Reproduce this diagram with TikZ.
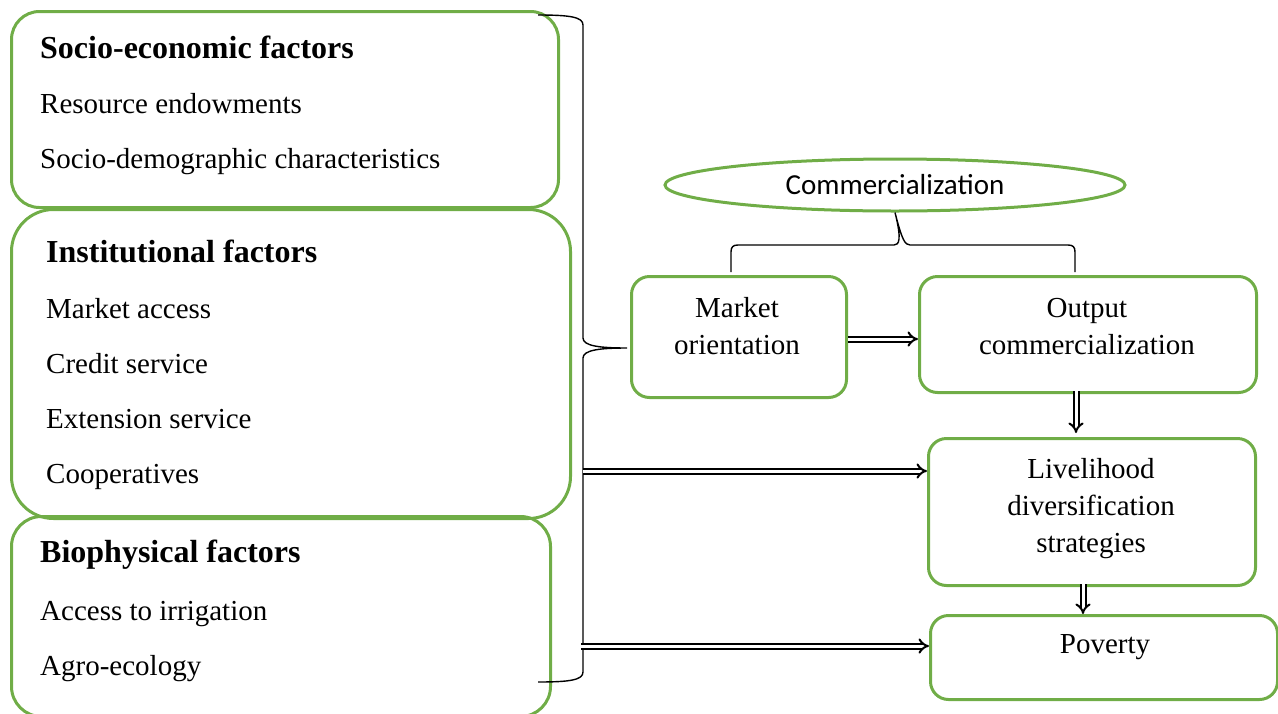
\documentclass[tikz,border=0pt]{standalone}
\usepackage{fontspec}
\setmainfont{Liberation Serif}
\newfontfamily\calfont{Carlito}
\usetikzlibrary{arrows.meta,shapes.geometric}
\definecolor{grn}{RGB}{112,173,71}
\tikzset{
  box/.style={draw=grn, line width=3pt, anchor=north west, inner sep=0pt},
  hd/.style={anchor=base west, inner sep=0pt, font=\fontsize{32}{38}\selectfont\bfseries},
  tx/.style={anchor=base west, inner sep=0pt, font=\fontsize{29}{36}\selectfont},
  ctx/.style={align=center, inner sep=0pt, font=\fontsize{29}{37}\selectfont},
  brc/.style={draw=black, line width=1.4pt},
  dbl/.style={double=white, double distance=3pt, line width=2pt, -{Implies}},
}
\begin{document}
\begin{tikzpicture}[x=1pt,y=-1pt]
\useasboundingbox (0,0) rectangle (1278,713);
% left boxes
\node[box, rounded corners=28pt, minimum width=547pt, minimum height=196pt] (se) at (10,10) {};
\node[box, rounded corners=42pt, minimum width=559pt, minimum height=309pt] (inst) at (10,208) {};
\node[box, rounded corners=30pt, minimum width=539pt, minimum height=200pt] (bio) at (10,515) {};
\node[hd] (t1) at (40,58) {Socio-economic factors};
\node[tx] (t2) at (40,113) {Resource endowments};
\node[tx] (t3) at (40,168) {Socio-demographic characteristics};
\node[hd] (t4) at (46,262) {Institutional factors};
\node[tx] (t5) at (46,318) {Market access};
\node[tx] (t6) at (46,373) {Credit service};
\node[tx] (t7) at (46,428) {Extension service};
\node[tx] (t8) at (46,483) {Cooperatives};
\node[hd] (t9) at (40,562) {Biophysical factors};
\node[tx] (t10) at (40,620) {Access to irrigation};
\node[tx] (t11) at (40,675) {Agro-ecology};
% big brace
\coordinate (bt) at (538,15);
\coordinate (bb) at (538,682);
\coordinate (btip) at (627,348);
\coordinate (b1) at (583,471);
\coordinate (b2) at (581,646);
\draw[brc] (bt) .. controls (570,15) and (583,17) .. (583,25) -- (583,338)
  .. controls (583,346) and (600,348) .. (btip)
  .. controls (600,348) and (583,350) .. (583,358) -- (583,672)
  .. controls (583,680) and (570,682) .. (bb);
% ellipse
\node[draw=grn, line width=3pt, ellipse, minimum width=460pt, minimum height=52pt, inner sep=0pt, font=\calfont\fontsize{29}{34}\selectfont] (comm) at (895,185) {Commercialization};
% small brace
\coordinate (sl) at (731,272);
\coordinate (sr) at (1075,272);
\draw[brc] (sl) -- (731,252) .. controls (731,247) and (733,245) .. (738,245) -- (894,245)
  .. controls (899,245) and (902,240) .. (comm.south)
  .. controls (902,240) and (905,245) .. (910,245) -- (1068,245)
  .. controls (1073,245) and (1075,247) .. (1075,252) -- (sr);
% right boxes
\node[box, rounded corners=18pt, minimum width=215pt, minimum height=121pt] (mo) at (630,275) {};
\node[box, rounded corners=18pt, minimum width=337pt, minimum height=116pt] (oc) at (918,275) {};
\node[box, rounded corners=18pt, minimum width=327pt, minimum height=147pt] (ld) at (927,437) {};
\node[box, rounded corners=18pt, minimum width=347pt, minimum height=84pt] (pov) at (929,614) {};
\node[ctx] at (737,326) {Market\\orientation};
\node[ctx] at (1087,327) {Output\\commercialization};
\node[ctx] at (1091,509) {Livelihood\\diversification\\strategies};
\node[ctx] at (1105,647) {Poverty};
% arrows
\draw[dbl] (mo.east |- 0,339) -- (oc.west |- 0,339);
\draw[dbl] (1076,391) -- (1076,433);
\draw[dbl] (1083,584) -- (1083,614);
\draw[dbl] (b1) -- (b1 -| ld.west);
\draw[dbl] (b2) -- (b2 -| pov.west);
\end{tikzpicture}
\end{document}
